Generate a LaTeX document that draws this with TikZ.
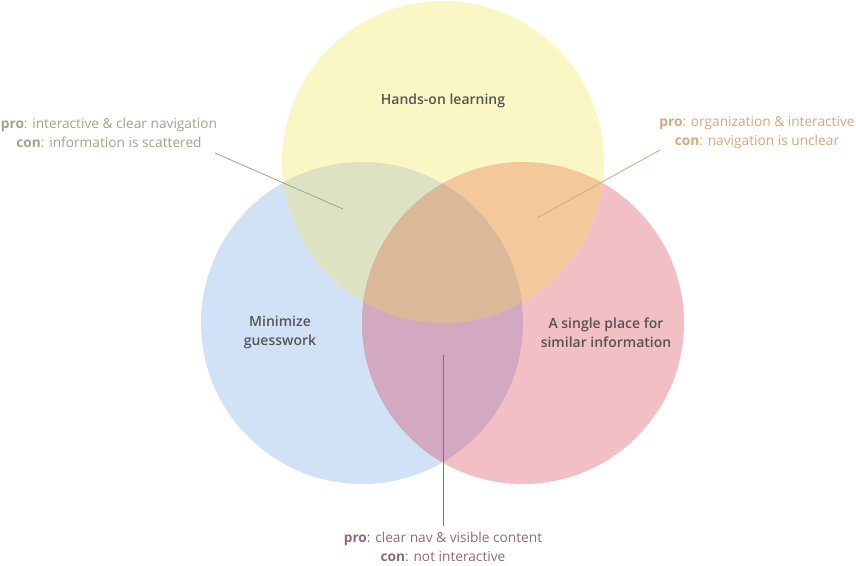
\documentclass[tikz,border=0pt]{standalone}
\usepackage{fontspec}
\setmainfont{Open Sans}
\newfontfamily\semibold{Open Sans Semibold}
\definecolor{yellowfill}{HTML}{FBF7C5}
\definecolor{bluefill}{HTML}{D1E2F6}
\definecolor{pinkfill}{HTML}{F2BFC4}
\definecolor{ybfill}{HTML}{DCE2C2}
\definecolor{ypfill}{HTML}{F3C89B}
\definecolor{bpfill}{HTML}{D3A9C1}
\definecolor{allfill}{HTML}{DAB898}
\definecolor{labelgray}{HTML}{555555}
\definecolor{oliveline}{HTML}{A3A38A}
\definecolor{tanline}{HTML}{D4A87A}
\definecolor{mauveline}{HTML}{8C6A80}
\tikzset{
  setname/.style={font=\semibold\fontsize{14}{19}\selectfont, text=labelgray, align=center},
  note/.style={font=\fontsize{13.7}{19}\selectfont, align=center, inner sep=0pt},
}
\begin{document}
\begin{tikzpicture}[x=1pt,y=-1pt]
\useasboundingbox (0,0) rectangle (856,565);
\coordinate (yc) at (443,162);
\coordinate (bc) at (362,323);
\coordinate (pc) at (523,323);
\fill[bluefill] (bc) circle[radius=161pt];
\fill[pinkfill] (pc) circle[radius=161pt];
\fill[yellowfill] (yc) circle[radius=161pt];
\begin{scope}
\clip (yc) circle[radius=161pt];
\fill[ybfill] (bc) circle[radius=161pt];
\fill[ypfill] (pc) circle[radius=161pt];
\end{scope}
\begin{scope}
\clip (bc) circle[radius=161pt];
\fill[bpfill] (pc) circle[radius=161pt];
\clip (pc) circle[radius=161pt];
\fill[allfill] (yc) circle[radius=161pt];
\end{scope}
\node[setname] (hands) at (443,100.5) {Hands-on learning};
\node[setname] (guess) at (280,332.5) {Minimize\\guesswork};
\node[setname] (single) at (606,332.5) {A single place for\\similar information};
\node[note, text=oliveline] (leftnote) at (109,133)
  {\textbf{pro}: interactive \& clear navigation\\\textbf{con}: information is scattered};
\node[note, text=tanline] (rightnote) at (757,133)
  {\textbf{pro}: organization \& interactive\\\textbf{con}: navigation is unclear};
\node[note, text=mauveline] (bottomnote) at (443,547)
  {\textbf{pro}: clear nav \& visible content\\\textbf{con}: not interactive};
\coordinate (leftstart) at (215,153);
\coordinate (leftend) at (343,209);
\coordinate (rightstart) at (660,150);
\coordinate (rightend) at (537,218);
\coordinate (bottomend) at (443,355);
\draw[oliveline, line width=0.8pt] (leftstart) -- (leftend);
\draw[tanline, line width=0.8pt] (rightstart) -- (rightend);
\draw[mauveline, line width=1pt] (bottomnote.north -| bottomend) ++(0,-6) -- (bottomend);
\end{tikzpicture}
\end{document}
